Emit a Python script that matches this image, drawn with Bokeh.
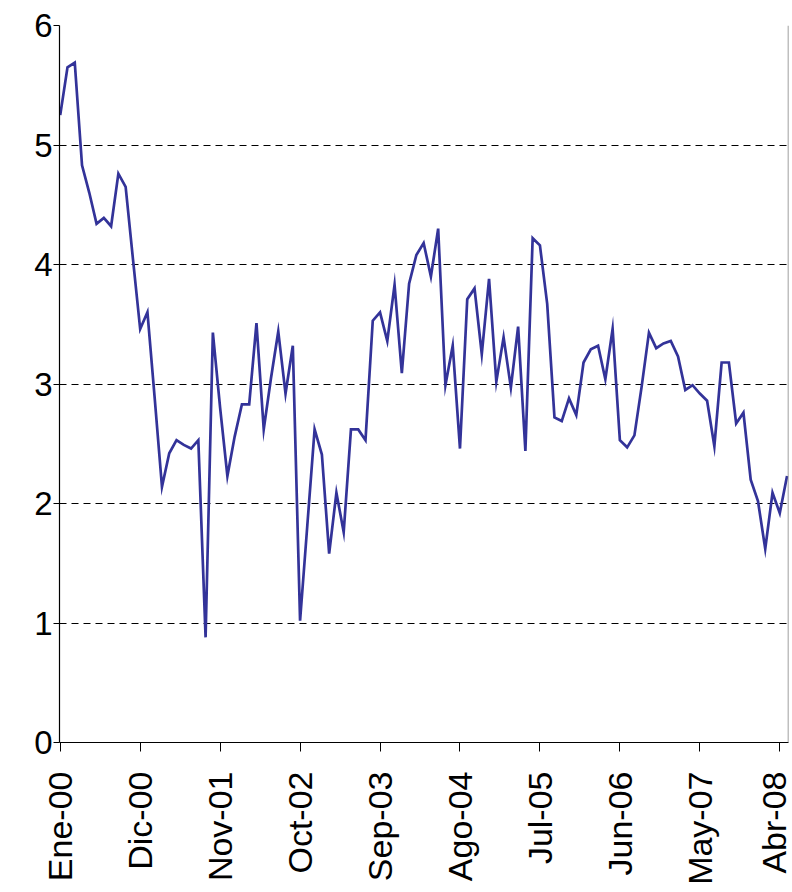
import math
from bokeh.plotting import figure
from bokeh.models import Range1d, FixedTicker, Span, ColumnDataSource
from bokeh.embed import file_html
from bokeh.resources import INLINE

# Monthly values, Ene-00 .. May-08
values = [
    5.25, 5.65, 5.69, 4.83, 4.60, 4.34, 4.39, 4.32, 4.76, 4.65,
    4.05, 3.46, 3.60, 2.88, 2.14, 2.42, 2.53, 2.49, 2.46, 2.53,
    0.88, 3.43, 2.80, 2.23, 2.56, 2.83, 2.83, 3.51, 2.62, 3.05,
    3.44, 2.92, 3.32, 1.02, 1.82, 2.62, 2.41, 1.58, 2.09, 1.76,
    2.62, 2.62, 2.53, 3.53, 3.60, 3.36, 3.83, 3.09, 3.84, 4.08,
    4.18, 3.90, 4.30, 2.99, 3.32, 2.46, 3.71, 3.80, 3.25, 3.88,
    3.02, 3.39, 2.97, 3.48, 2.44, 4.22, 4.16, 3.67, 2.72, 2.69,
    2.88, 2.74, 3.18, 3.29, 3.32, 3.04, 3.46, 2.53, 2.47, 2.57,
    2.98, 3.43, 3.30, 3.34, 3.36, 3.23, 2.95, 2.99, 2.92, 2.86,
    2.48, 3.18, 3.18, 2.67, 2.76, 2.20, 2.02, 1.62, 2.09, 1.92,
    2.23,
]
tick_positions = [0, 11, 22, 33, 44, 55, 66, 77, 88, 99]
tick_labels = ["Ene-00", "Dic-00", "Nov-01", "Oct-02", "Sep-03",
               "Ago-04", "Jul-05", "Jun-06", "May-07", "Abr-08"]
y_ticks = [0, 1, 2, 3, 4, 5, 6]

FONT = "Liberation Sans"
x_start, x_end = -0.1, len(values) - 1 + 0.2

src = ColumnDataSource(dict(x=list(range(len(values))), y=values))

p = figure(width=792, height=892, output_backend="svg", toolbar_location=None,
           x_range=Range1d(x_start, x_end), y_range=Range1d(0, 6),
           min_border_left=59, min_border_right=4, min_border_top=25,
           min_border_bottom=150)
p.outline_line_color = None
p.background_fill_color = "white"
p.border_fill_color = "white"

p.line("x", "y", source=src, line_color="#333399", line_width=2.7,
       line_join="miter")

# grid
p.xgrid.grid_line_color = None
p.ygrid.ticker = FixedTicker(ticks=y_ticks)
p.ygrid.grid_line_color = "black"
p.ygrid.grid_line_dash = "7 5"
p.ygrid.grid_line_width = 1

# right border line
p.add_layout(Span(location=x_end, dimension="height", line_color="#808080",
                  line_width=1.5))

# y axis
ya = p.yaxis[0]
ya.ticker = FixedTicker(ticks=y_ticks)
ya.axis_line_color = "black"
ya.axis_line_width = 1.2
ya.major_tick_in = 0
ya.major_tick_out = 6
ya.minor_tick_line_color = None
ya.major_label_text_font = FONT
ya.major_label_text_font_size = "33px"
ya.major_label_text_color = "black"
ya.major_label_standoff = 1

# x axis
xa = p.xaxis[0]
xa.ticker = FixedTicker(ticks=tick_positions)
xa.major_label_overrides = {t: l for t, l in zip(tick_positions, tick_labels)}
xa.major_label_orientation = math.pi / 2
xa.axis_line_color = "black"
xa.axis_line_width = 1.2
xa.major_tick_in = 0
xa.major_tick_out = 9
xa.minor_tick_line_color = None
xa.major_label_text_font = FONT
xa.major_label_text_font_size = "34px"
xa.major_label_text_color = "black"
xa.major_label_standoff = 20

open("out.html", "w").write(file_html(p, INLINE))
